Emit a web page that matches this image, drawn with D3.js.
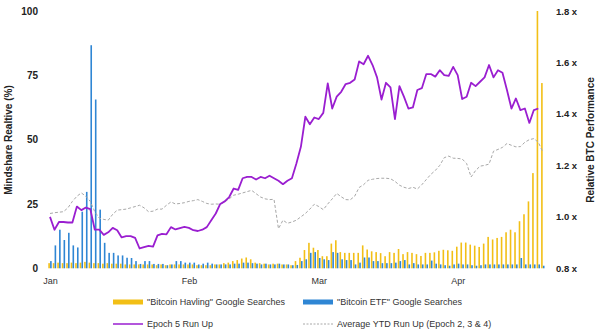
<!DOCTYPE html>
<html><head><meta charset="utf-8">
<script src="https://cdn.jsdelivr.net/npm/d3@7"></script>
<style>
body{margin:0;background:#fff;}
svg{display:block;font-family:"Liberation Sans",Arial,sans-serif;}
</style></head><body>
<svg id="c" width="600" height="331"></svg>
<script>
// Categories: daily dates Jan 1 - Apr 20, 2024
const startDate = new Date(2024,0,1);
const endDate = new Date(2024,3,21);
const days = d3.timeDay.range(startDate, endDate);

// "Bitcoin Havling" Google Searches (left axis, %)
const havling = [2.0,2.0,2.2,2.0,2.0,2.2,2.0,2.2,2.5,2.2,2.0,2.0,1.8,2.0,1.8,1.8,1.8,1.5,1.5,1.5,1.5,1.5,1.5,1.5,1.2,1.5,1.2,1.5,1.5,1.5,1.5,
1.5,1.5,1.2,1.2,1.2,1.2,1.5,1.5,2.0,2.2,2.8,3.2,3.8,4.2,3.5,2.2,2.0,1.8,1.5,1.8,1.8,1.5,1.5,1.2,2.8,4.1,7.1,9.9,8.0,
7.1,4.7,4.7,9.6,10.9,6.3,6.0,6.0,6.0,6.0,8.9,7.3,6.6,6.3,5.9,4.7,6.3,6.0,7.5,5.5,6.3,6.0,5.5,4.8,6.0,6.0,6.2,6.8,7.2,7.0,6.8,
8.4,10.0,10.0,9.2,8.8,8.3,9.6,12.2,11.2,11.8,12.2,14,15,14,18.3,21,26,37,100,72];

// "Bitcoin ETF" Google Searches (left axis, %)
const etf = [2.8,8.9,15,11,13.8,8.9,8.1,22,29.7,86.7,65.6,22.8,9.9,6,6,5,5,4.1,4,2.8,1.7,2.8,2.8,1.7,1.7,1.7,1.2,1.5,2.8,2.8,2.2,
2.2,2.2,1.5,1.8,2.2,1.8,1.5,1.5,1.5,1.5,1.8,1.8,2.2,2.2,2.0,1.8,1.5,1.8,1.5,1.5,1.8,1.5,1.5,1.2,1.3,2.8,3.5,6,6.3,
4,3.5,3.2,6.3,6,3.5,3.2,3.2,1.5,2.2,4.2,4.2,2.8,2.8,2,2,2,2.2,2.8,3.2,1.5,2,1.5,1.5,1.5,3,1.8,1.5,1.2,1.0,1.5,
1.8,1.5,1.5,1.2,1.0,1.2,1.5,1.5,1.5,1.5,1.5,1.5,1.5,1.5,4.0,1.5,1.5,1.5,1.5,1.0];

// Epoch 5 Run Up (right axis, x)
const epoch5 = [1.00,0.95,0.98,0.98,0.978,0.978,1.04,1.026,1.036,1.03,0.95,0.95,0.93,0.94,0.957,0.948,0.92,0.925,0.925,0.918,0.877,0.882,0.887,0.884,0.928,0.934,0.932,0.96,0.951,0.956,0.961,
0.957,0.948,0.945,0.95,0.96,0.987,1.013,1.05,1.06,1.077,1.11,1.105,1.15,1.155,1.155,1.145,1.155,1.15,1.16,1.15,1.14,1.127,1.14,1.15,1.207,1.272,1.389,1.36,1.386,
1.38,1.404,1.519,1.421,1.467,1.486,1.516,1.521,1.534,1.604,1.593,1.626,1.59,1.542,1.456,1.521,1.503,1.38,1.508,1.467,1.421,1.425,1.493,1.5,1.555,1.555,1.545,1.57,1.551,1.548,1.583,
1.551,1.458,1.467,1.521,1.508,1.525,1.542,1.59,1.542,1.57,1.56,1.493,1.421,1.46,1.415,1.421,1.365,1.415,1.421];

// Average YTD Run Up (Epoch 2, 3 & 4) (right axis, x)
const avgRunUp = [1.013,1.016,1.018,1.02,1.035,1.06,1.08,1.093,1.08,1.06,1.02,0.995,0.99,0.987,1.01,1.026,1.028,1.03,1.035,1.04,1.045,1.035,1.02,1.022,1.03,1.03,1.045,1.058,1.05,1.052,1.055,
1.06,1.063,1.067,1.06,1.052,1.049,1.05,1.049,1.058,1.07,1.084,1.088,1.093,1.098,1.103,1.09,1.077,1.07,1.067,1.068,0.954,0.987,0.975,0.98,0.987,1.0,1.013,1.03,1.049,
1.04,1.028,1.05,1.07,1.091,1.078,1.067,1.066,1.08,1.114,1.125,1.142,1.146,1.149,1.15,1.15,1.148,1.138,1.123,1.115,1.11,1.115,1.108,1.125,1.145,1.165,1.18,1.2,1.23,1.236,1.228,
1.227,1.225,1.207,1.155,1.18,1.197,1.2,1.205,1.255,1.262,1.27,1.285,1.278,1.272,1.273,1.29,1.3,1.304,1.29,1.252];

const leftTicks = [0,25,50,75,100];
const rightTicks = [0.8,1.0,1.2,1.4,1.6,1.8];
const legendItems = ['"Bitcoin Havling" Google Searches','"Bitcoin ETF" Google Searches','Epoch 5 Run Up','Average YTD Run Up (Epoch 2, 3 & 4)'];

const colors = {havling:"#F2BF16", etf:"#2F86D4", epoch:"#9A1ED0", avg:"#A8A8A8"};

const svg = d3.select("#c");
const x = d3.scaleTime().domain([startDate, days[days.length-1]]).range([50, 542.8]);
const yL = d3.scaleLinear().domain([0,100]).range([268.3, 11]);
const yR = d3.scaleLinear().domain([0.8,1.8]).range([268.3, 11]);

// bars
const bw = 1.6;
svg.append("g").selectAll("rect").data(havling).join("rect")
  .attr("x",(d,i)=>x(days[i])-bw-0.1).attr("width",bw)
  .attr("y",d=>yL(d)).attr("height",d=>yL(0)-yL(d)).attr("fill",colors.havling);
svg.append("g").selectAll("rect").data(etf).join("rect")
  .attr("x",(d,i)=>x(days[i])+0.1).attr("width",bw)
  .attr("y",d=>yL(d)).attr("height",d=>yL(0)-yL(d)).attr("fill",colors.etf);

// lines
const lineR = d3.line().x((d,i)=>x(days[i])).y(d=>yR(d));
svg.append("path").datum(avgRunUp).attr("d",lineR).attr("fill","none")
  .attr("stroke",colors.avg).attr("stroke-width",1).attr("stroke-dasharray","3,2");
svg.append("path").datum(epoch5).attr("d",lineR).attr("fill","none")
  .attr("stroke",colors.epoch).attr("stroke-width",1.8).attr("stroke-linejoin","round");

// axes
const gL = svg.append("g").attr("transform","translate(38,0)")
  .call(d3.axisLeft(yL).tickValues(leftTicks).tickSize(0).tickPadding(0));
gL.select(".domain").remove();
gL.selectAll("text").attr("font-size","10px").attr("font-weight","bold").attr("fill","#222").attr("font-family","Liberation Sans, Arial, sans-serif");

const gR = svg.append("g").attr("transform","translate(556,0)")
  .call(d3.axisRight(yR).tickValues(rightTicks).tickSize(0).tickPadding(0).tickFormat(d=>d3.format(".1f")(d)+" x"));
gR.select(".domain").remove();
gR.selectAll("text").attr("font-size","9.5px").attr("font-weight","bold").attr("fill","#222").attr("font-family","Liberation Sans, Arial, sans-serif");

const gX = svg.append("g").attr("transform","translate(0,278)")
  .call(d3.axisBottom(x).tickValues(d3.timeMonth.range(startDate,endDate)).tickFormat(d3.timeFormat("%b")).tickSize(0).tickPadding(0));
gX.select(".domain").remove();
gX.selectAll("text").attr("font-size","9px").attr("fill","#333").attr("font-family","Liberation Sans, Arial, sans-serif");

// axis titles
svg.append("text").attr("transform","translate(12,140) rotate(-90)").attr("text-anchor","middle")
  .attr("font-size","10px").attr("font-weight","bold").attr("fill","#222").text("Mindshare Realtive (%)");
svg.append("text").attr("transform","translate(594,140) rotate(-90)").attr("text-anchor","middle")
  .attr("font-size","10px").attr("font-weight","bold").attr("fill","#222").text("Relative BTC Performance");

// legend
const lg = svg.append("g").attr("font-size","9px").attr("fill","#333");
const pos = [[113,302],[303,302],[113,324],[303,324]];
legendItems.forEach((t,i)=>{
  const [lx,ly] = pos[i];
  if(i===0) lg.append("rect").attr("x",lx).attr("y",ly-2.5).attr("width",30).attr("height",5).attr("fill",colors.havling);
  if(i===1) lg.append("rect").attr("x",lx).attr("y",ly-2.5).attr("width",30).attr("height",5).attr("fill",colors.etf);
  if(i===2) lg.append("line").attr("x1",lx).attr("x2",lx+30).attr("y1",ly).attr("y2",ly).attr("stroke",colors.epoch).attr("stroke-width",1.5);
  if(i===3) lg.append("line").attr("x1",lx).attr("x2",lx+30).attr("y1",ly).attr("y2",ly).attr("stroke",colors.avg).attr("stroke-width",1).attr("stroke-dasharray","2,1.5");
  lg.append("text").attr("x",lx+34).attr("y",ly).attr("dy","0.35em").attr("fill","#333").text(t);
});
</script>
</body></html>
